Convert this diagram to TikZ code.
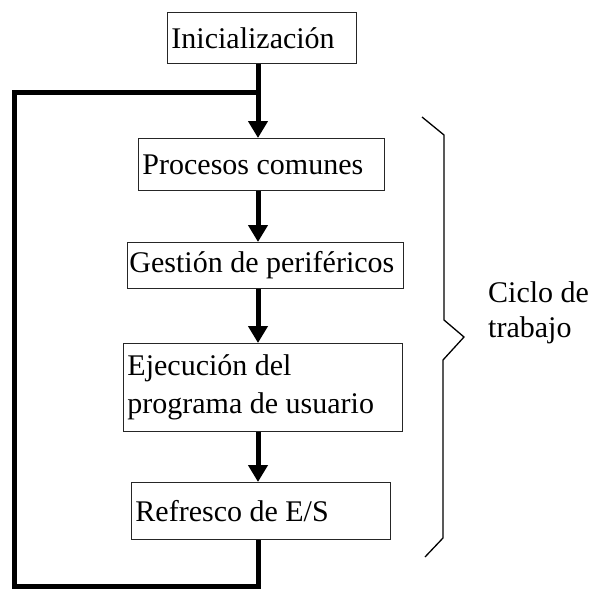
\documentclass[tikz,border=0pt]{standalone}
\usepackage{fontspec}
\setmainfont{Liberation Serif}
\usetikzlibrary{arrows.meta}
\begin{document}
\begin{tikzpicture}[x=1pt,y=-1pt,
  caja/.style={draw=black!85,line width=0.9pt,anchor=north west,align=flush left,
    inner xsep=4pt,inner ysep=0pt,font=\fontsize{30}{38}\selectfont},
  flecha/.style={line width=5pt,-{Triangle[length=17pt,width=19pt]}},
  lazo/.style={line width=5pt},
  nota/.style={font=\fontsize{30}{35}\selectfont,align=flush left,anchor=west,inner sep=4pt}]
\useasboundingbox (0,0) rectangle (590,589);
% cajas del diagrama
\node[caja,text width=181pt,minimum height=51pt] (init) at (167,12) {Inicialización};
\node[caja,text width=238pt,minimum height=52pt] (procesos) at (138,138) {Procesos comunes};
\node[caja,inner xsep=2pt,text width=272pt,minimum height=46pt] (gestion) at (127,242) {Gestión de periféricos};
\node[caja,text width=271pt,minimum height=88pt] (ejecucion) at (123,343) {Ejecución del\\programa de usuario};
\node[caja,text width=251pt,minimum height=57pt] (refresco) at (131,482) {Refresco de E/S};
\coordinate (spine) at (258,0);
\coordinate (union) at (258,92);
\coordinate (abajo) at (14,586);
\coordinate (arriba) at (14,92);
% flechas
\draw[lazo] (init.south -| spine) -- (union);
\draw[flecha] (union) -- (procesos.north -| spine);
\foreach \a/\b in {procesos/gestion,gestion/ejecucion,ejecucion/refresco}
  \draw[flecha] (\a.south -| spine) -- (\b.north -| spine);
\draw[lazo] (refresco.south -| spine) |- (abajo) -- (arriba) -- (union);
% llave
\draw[line width=1.3pt] (422,117) -- (444,135) -- (444,320) -- (464,337) -- (443,360) -- (443,538) -- (425,557);
\node[nota] (ciclo) at (484,313) {Ciclo de\\trabajo};
\end{tikzpicture}
\end{document}
